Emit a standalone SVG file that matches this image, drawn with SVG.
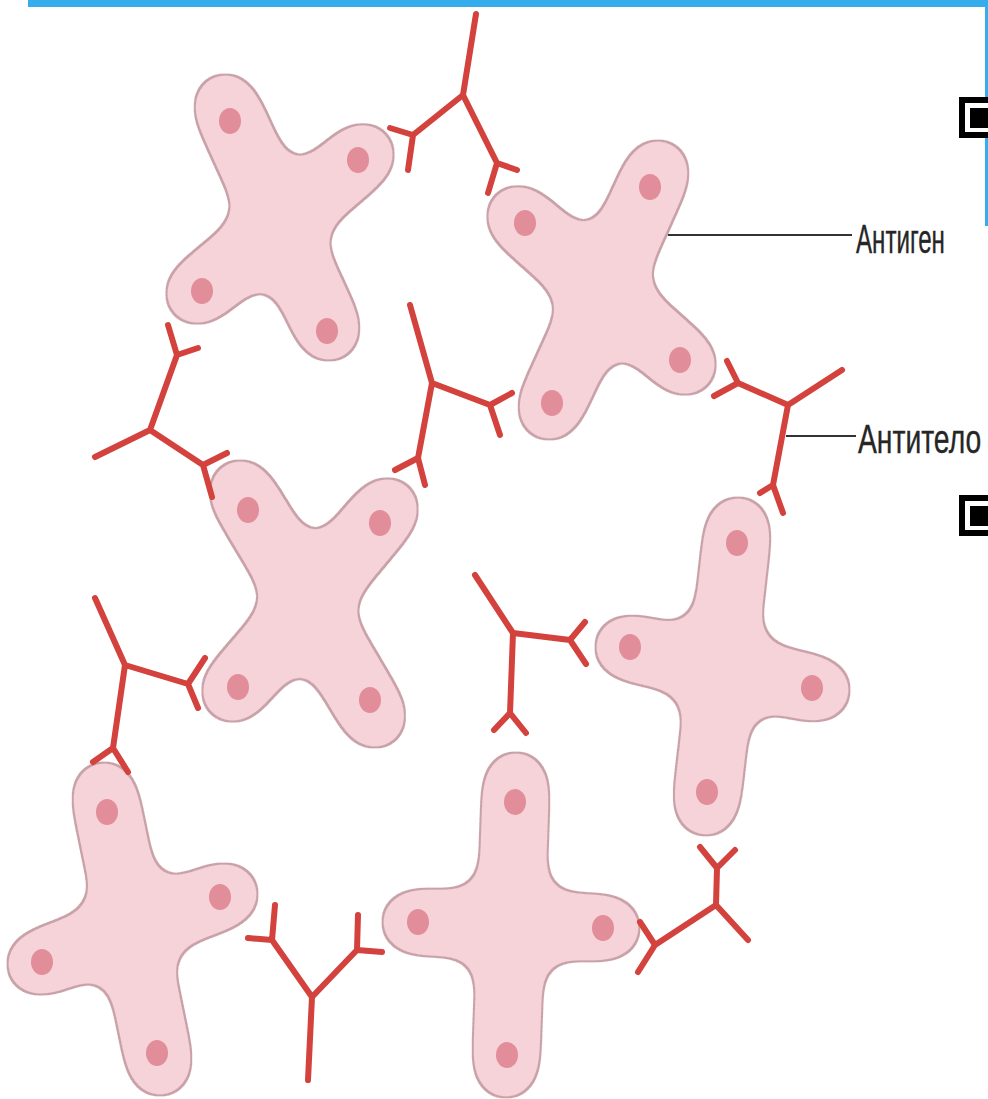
<svg xmlns="http://www.w3.org/2000/svg" width="988" height="1099" viewBox="0 0 988 1099">
  <defs>
    <style>
      .arm { fill: none; stroke: #000; stroke-width: 66; stroke-linecap: round; }
      .dot { fill: #e28d9a; }
      .ab { fill: none; stroke: #d3423d; stroke-width: 6; stroke-linecap: round; stroke-linejoin: round; }
      .lead { stroke: #333; stroke-width: 2; fill: none; }
      .lbl { font-family: "Liberation Sans Narrow", "Liberation Sans", Arial, sans-serif; font-size: 41px; fill: #262626; stroke: #262626; stroke-width: 0.4; }
      .bar { fill: #35acec; }
    </style>
    <!-- merges the thick arm strokes into one smooth body with filleted notches and a thin rim -->
    <filter id="cell" filterUnits="userSpaceOnUse" x="0" y="0" width="988" height="1099" color-interpolation-filters="sRGB">
      <feGaussianBlur in="SourceAlpha" stdDeviation="17" result="blur"/>
      <feComponentTransfer in="blur" result="mask">
        <feFuncA type="linear" slope="40" intercept="-19.4"/>
      </feComponentTransfer>
      <feMorphology in="mask" operator="dilate" radius="1.5" result="rim"/>
      <feFlood flood-color="#c9a1a9" result="rimColor"/>
      <feComposite in="rimColor" in2="rim" operator="in" result="edge"/>
      <feFlood flood-color="#f5d3d8" result="bodyColor"/>
      <feComposite in="bodyColor" in2="mask" operator="in" result="body"/>
      <feMerge>
        <feMergeNode in="edge"/>
        <feMergeNode in="body"/>
      </feMerge>
    </filter>
  </defs>

  <rect width="988" height="1099" fill="#ffffff"/>

  <!-- slide frame -->
  <g id="frame">
    <rect class="bar" x="28" y="0" width="960" height="7"/>
    <rect class="bar" x="985" y="0" width="3" height="226"/>
  </g>

  <!-- antigens -->
  <g id="antigen-1">
    <g filter="url(#cell)">
      <path class="arm" d="M280 225L225 104M280 225L364 154M280 225L196 294M280 225L329 331"/>
    </g>
    <ellipse class="dot" cx="230" cy="121" rx="11" ry="13"/>
    <ellipse class="dot" cx="358" cy="160" rx="11" ry="13"/>
    <ellipse class="dot" cx="202" cy="291" rx="11" ry="13"/>
    <ellipse class="dot" cx="327" cy="331" rx="11" ry="13"/>
  </g>

  <g id="antigen-2">
    <g filter="url(#cell)">
      <path class="arm" d="M603 292L658 170M603 292L517 216M603 292L686 365M603 292L549 410"/>
    </g>
    <ellipse class="dot" cx="650" cy="187" rx="11" ry="13"/>
    <ellipse class="dot" cx="525" cy="223" rx="11" ry="13"/>
    <ellipse class="dot" cx="680" cy="360" rx="11" ry="13"/>
    <ellipse class="dot" cx="552" cy="403" rx="11" ry="13"/>
  </g>

  <g id="antigen-3">
    <g filter="url(#cell)">
      <path class="arm" d="M308 604L240 490M308 604L388 508M308 604L232 692M308 604L375 718"/>
    </g>
    <ellipse class="dot" cx="248" cy="510" rx="11" ry="13"/>
    <ellipse class="dot" cx="380" cy="523" rx="11" ry="13"/>
    <ellipse class="dot" cx="238" cy="687" rx="11" ry="13"/>
    <ellipse class="dot" cx="370" cy="700" rx="11" ry="13"/>
  </g>

  <g id="antigen-4">
    <g filter="url(#cell)">
      <path class="arm" d="M722 668L738 527M722 668L625 647M722 668L820 690M722 668L706 806"/>
    </g>
    <ellipse class="dot" cx="737" cy="543" rx="11" ry="13"/>
    <ellipse class="dot" cx="630" cy="647" rx="11" ry="13"/>
    <ellipse class="dot" cx="812" cy="688" rx="11" ry="13"/>
    <ellipse class="dot" cx="707" cy="792" rx="11" ry="13"/>
  </g>

  <g id="antigen-5">
    <g filter="url(#cell)">
      <path class="arm" d="M132 929L104 792M132 929L228 894M132 929L37 964M132 929L160 1066"/>
    </g>
    <ellipse class="dot" cx="107" cy="812" rx="11" ry="13"/>
    <ellipse class="dot" cx="220" cy="897" rx="11" ry="13"/>
    <ellipse class="dot" cx="42" cy="962" rx="11" ry="13"/>
    <ellipse class="dot" cx="157" cy="1053" rx="11" ry="13"/>
  </g>

  <g id="antigen-6">
    <g filter="url(#cell)">
      <path class="arm" d="M511 925L516 782M511 925L412 922M511 925L610 928M511 925L506 1068"/>
    </g>
    <ellipse class="dot" cx="515" cy="802" rx="11" ry="13"/>
    <ellipse class="dot" cx="418" cy="922" rx="11" ry="13"/>
    <ellipse class="dot" cx="603" cy="928" rx="11" ry="13"/>
    <ellipse class="dot" cx="507" cy="1055" rx="11" ry="13"/>
  </g>

  <!-- antibodies: stem, hinge, two forked arms -->
  <g id="antibody-1">
    <path class="ab" d="M476 14L463 95L413 135L390 128M413 135L408 170M463 95L497 163L517 170M497 163L488 193"/>
  </g>
  <g id="antibody-2">
    <path class="ab" d="M95 457L150 430L177 355L168 325M177 355L198 348M150 430L203 465L227 453M203 465L212 497"/>
  </g>
  <g id="antibody-3">
    <path class="ab" d="M410 305L432 383L490 405L512 393M490 405L500 435M432 383L418 458L395 470M418 458L425 485"/>
  </g>
  <g id="antibody-4">
    <path class="ab" d="M842 370L788 405L738 383L714 396M738 383L727 361M788 405L773 485L760 493M773 485L783 513"/>
  </g>
  <g id="antibody-5">
    <path class="ab" d="M95 598L125 665L188 684L205 658M188 684L198 708M125 665L113 748L93 762M113 748L128 772"/>
  </g>
  <g id="antibody-6">
    <path class="ab" d="M475 575L513 633L570 640L585 622M570 640L586 664M513 633L510 713L494 730M510 713L526 733"/>
  </g>
  <g id="antibody-7">
    <path class="ab" d="M308 1080L312 997L272 940L275 905M272 940L248 938M312 997L357 950L358 915M357 950L382 952"/>
  </g>
  <g id="antibody-8">
    <path class="ab" d="M748 940L716 905L717 868L700 847M717 868L735 850M716 905L655 945L640 922M655 945L638 972"/>
  </g>

  <!-- leader lines -->
  <g id="leaders">
    <path class="lead" d="M668 235H852"/>
    <path class="lead" d="M786 436H856"/>
  </g>

  <!-- condensed labels: horizontal squeeze plus exact run length -->
  <g id="label-antigen">
    <text class="lbl" transform="translate(856 253) scale(0.7 1)" x="0" y="0" textLength="127" lengthAdjust="spacingAndGlyphs">Антиген</text>
  </g>
  <g id="label-antibody">
    <text class="lbl" transform="translate(858 453) scale(0.7 1)" x="0" y="0" textLength="176" lengthAdjust="spacingAndGlyphs">Антитело</text>
  </g>

  <!-- square bullets -->
  <g id="bullet-1">
    <rect x="962" y="100" width="35" height="35" fill="#fff" stroke="#000" stroke-width="6"/>
    <rect x="970" y="108" width="20" height="20" fill="#000"/>
  </g>
  <g id="bullet-2">
    <rect x="962" y="498" width="35" height="35" fill="#fff" stroke="#000" stroke-width="6"/>
    <rect x="970" y="506" width="20" height="20" fill="#000"/>
  </g>
</svg>
